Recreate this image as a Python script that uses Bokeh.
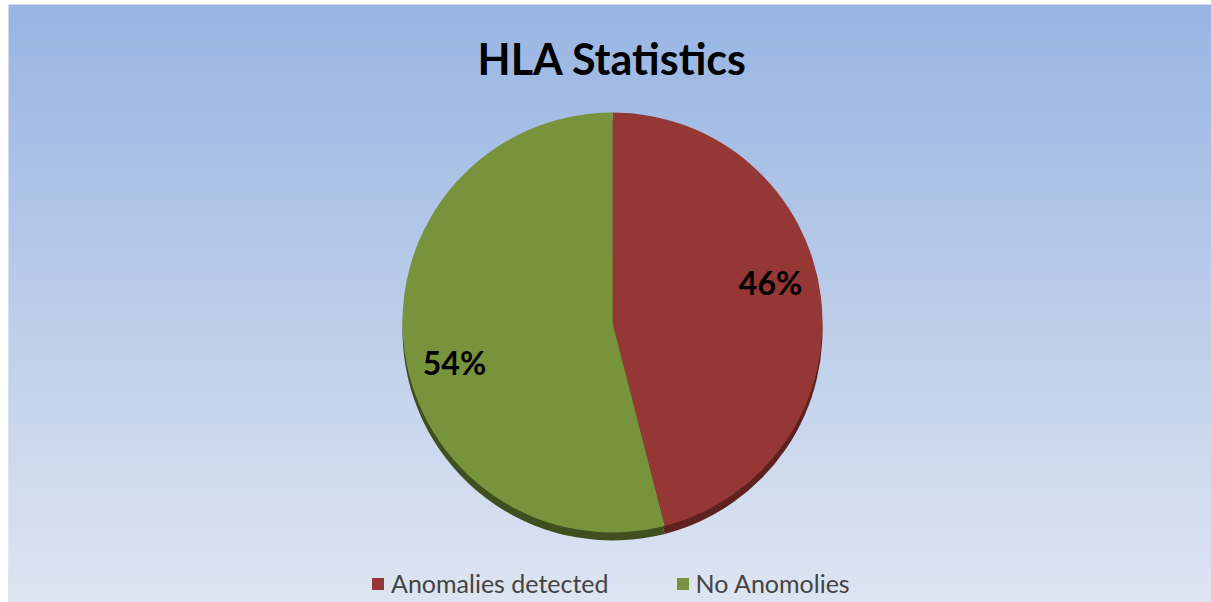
import numpy as np
from bokeh.plotting import figure
from bokeh.models import Legend, LegendItem, ColumnDataSource
from bokeh.core.properties import value
from bokeh.embed import file_html
from bokeh.resources import INLINE

# ---- data ----
categories = ["Anomalies detected", "No Anomolies"]
shares = [46, 54]
colors = ["#953735", "#77933c"]
shadow_colors = ["#5e2120", "#3f4f1f"]
title_text = "HLA Statistics"

FW, FH = 1203, 598
p = figure(width=1211, height=602, x_range=(0, FW), y_range=(0, FH),
           output_backend="svg", toolbar_location=None,
           min_border_left=8, min_border_top=4, min_border_right=0,
           min_border_bottom=0)
p.axis.visible = False
p.grid.visible = False
p.outline_line_color = None
p.background_fill_color = "#c0d0ec"
p.border_fill_color = "#ffffff"

# background gradient (top blue -> bottom pale)
top = np.array([152, 181, 227])
bot = np.array([222, 229, 242])
n = 200
t = np.linspace(0, 1, n)[:, None]  # row 0 = bottom
rgb = bot * (1 - t) + top * t
img = np.zeros((n, 1), dtype=np.uint32)
view = img.view(dtype=np.uint8).reshape((n, 1, 4))
view[:, 0, 0] = rgb[:, 0]
view[:, 0, 1] = rgb[:, 1]
view[:, 0, 2] = rgb[:, 2]
view[:, 0, 3] = 255
p.image_rgba(image=[img], x=0, y=0, dw=FW, dh=FH)

# title
p.text(x=[604], y=[544], text=[title_text], text_align="center",
       text_baseline="middle", text_font=value("Lato"), text_font_style="bold",
       text_font_size="43px", text_color="#000000")

# pie geometry
cx, cy, R = 604, 280, 210
fr = np.array(shares) / sum(shares)
cum = np.concatenate([[0], np.cumsum(fr)])
start_deg = 90 - cum[1:] * 360
end_deg = 90 - cum[:-1] * 360
src = ColumnDataSource(dict(cat=categories, start=np.radians(start_deg),
                            end=np.radians(end_deg), color=colors,
                            shadow=shadow_colors))

# shadow
p.wedge(x=cx, y=cy - 8, radius=R, start_angle="start", end_angle="end",
        fill_color="shadow", line_color=None, source=src)
wr = p.wedge(x=cx, y=cy, radius=R, start_angle="start", end_angle="end",
             fill_color="color", line_color=None, source=src)

# labels
mid = np.radians((start_deg + end_deg) / 2 + 7)
lr = 163
labels = [f"{s}%" for s in shares]
p.text(x=cx + lr * np.cos(mid), y=cy + lr * np.sin(mid), text=labels,
       text_align="center", text_baseline="middle", text_font=value("Lato"),
       text_font_style="bold", text_font_size="32px", text_color="#000000")

legend = Legend(items=[LegendItem(label=categories[i], renderers=[wr], index=i)
                       for i in range(len(categories))],
                orientation="horizontal", location=(362, 4),
                background_fill_alpha=0, border_line_color=None,
                padding=0, margin=0,
                label_text_font="Lato", label_text_font_size="25px",
                glyph_width=15, glyph_height=15, spacing=66,
                label_standoff=6)
p.add_layout(legend)

open("out.html", "w").write(file_html(p, INLINE))
